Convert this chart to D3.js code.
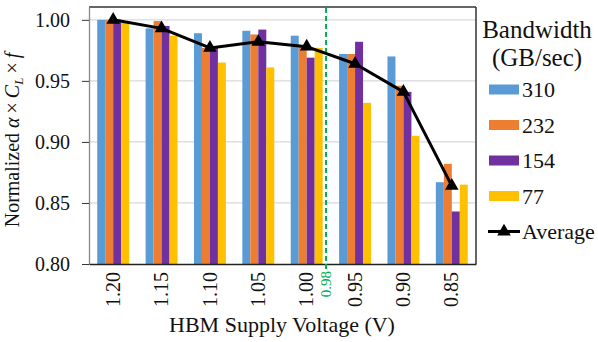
<!DOCTYPE html>
<html>
<head>
<meta charset="utf-8">
<script src="https://cdn.jsdelivr.net/npm/d3@7"></script>
</head>
<body style="margin:0; font-family: 'Liberation Serif', 'Times New Roman', serif;">
<script>
(function(){
    // data
    var voltages = ['1.20', '1.15', '1.10', '1.05', '1.00', '0.95', '0.90', '0.85'];
    var seriesKeys = ['310', '232', '154', '77'];
    var bw310 = [1.000, 0.993, 0.989, 0.991, 0.987, 0.972, 0.970, 0.867];
    var bw232 = [1.000, 0.999, 0.977, 0.988, 0.978, 0.972, 0.946, 0.882];
    var bw154 = [1.000, 0.995, 0.977, 0.992, 0.969, 0.982, 0.941, 0.843];
    var bw77  = [0.999, 0.987, 0.965, 0.961, 0.977, 0.932, 0.905, 0.865];
    var average = [1.000, 0.993, 0.977, 0.982, 0.978, 0.964, 0.941, 0.864];
    var yTicks = [0.80, 0.85, 0.90, 0.95, 1.00];
    var markerVoltage = 0.98;

    var seriesVals = { '310': bw310, '232': bw232, '154': bw154, '77': bw77 };
    var colors = { '310': '#5B9BD5', '232': '#ED7D31', '154': '#7030A0', '77': '#FFC000' };
    var FONT = "'Liberation Serif'";

    var W = 598, H = 342;
    var margin = { top: 7, right: 122, bottom: 78, left: 89 };
    var width = W - margin.left - margin.right;
    var height = H - margin.top - margin.bottom;

    var root = d3.select('body').append('svg')
        .attr('width', W).attr('height', H)
        .attr('font-family', 'Liberation Serif');
    var svg = root.append('g')
        .attr('transform', 'translate(' + margin.left + ',' + margin.top + ')');

    function serif(sel) {
        return sel.attr('font-family', 'Liberation Serif').style('font-family', FONT);
    }

    var x0 = d3.scaleBand().domain(voltages).range([0, width]).paddingInner(0.34).paddingOuter(0.17);
    var x1 = d3.scaleBand().domain(seriesKeys).range([0, x0.bandwidth()]);
    // linear voltage position (for the 0.98 V marker)
    var xv = d3.scaleLinear()
        .domain([+voltages[0], +voltages[voltages.length - 1]])
        .range([x0(voltages[0]) + x0.bandwidth() / 2, x0(voltages[voltages.length - 1]) + x0.bandwidth() / 2]);
    var y = d3.scaleLinear().domain([0.80, 1.0105]).range([height, 0]);

    // gridlines
    svg.append('g').selectAll('line')
        .data(yTicks.slice(1))
        .enter().append('line')
        .attr('x1', 0).attr('x2', width)
        .attr('y1', function(d){ return y(d); }).attr('y2', function(d){ return y(d); })
        .attr('stroke', '#d9d9d9').attr('stroke-width', 1.3);

    // bars
    voltages.forEach(function(v, i){
        var g = svg.append('g').attr('transform', 'translate(' + x0(v) + ',0)');
        seriesKeys.forEach(function(k){
            var val = seriesVals[k][i];
            g.append('rect')
                .attr('x', x1(k)).attr('width', x1.bandwidth())
                .attr('y', y(val)).attr('height', height - y(val))
                .attr('fill', colors[k]);
        });
    });

    // frame
    svg.append('line').attr('x1', 0).attr('x2', width).attr('y1', 0).attr('y2', 0)
        .attr('stroke', '#333').attr('stroke-width', 1.5);
    svg.append('line').attr('x1', width).attr('x2', width).attr('y1', 0).attr('y2', height)
        .attr('stroke', '#333').attr('stroke-width', 1.5);

    // y axis
    var yAxisG = svg.append('g')
        .call(d3.axisLeft(y).tickValues(yTicks).tickFormat(d3.format('.2f')).tickSize(7).tickPadding(12).tickSizeOuter(0));
    serif(yAxisG);
    yAxisG.select('.domain').attr('stroke', '#888').attr('stroke-width', 1.3);
    yAxisG.selectAll('.tick line').attr('stroke', '#333');
    serif(yAxisG.selectAll('text').attr('font-size', 20).attr('fill', '#111'));

    // x axis
    var xAxisG = svg.append('g')
        .attr('transform', 'translate(0,' + height + ')')
        .call(d3.axisBottom(x0).tickSize(0).tickPadding(0).tickSizeOuter(0));
    serif(xAxisG);
    xAxisG.select('.domain').attr('stroke', '#222').attr('stroke-width', 1.5);
    serif(xAxisG.selectAll('text')
        .attr('transform', 'rotate(-90)')
        .attr('text-anchor', 'end')
        .attr('x', -8).attr('y', 0).attr('dy', '0.33em')
        .attr('font-size', 20).attr('fill', '#111'));

    // 0.98 V dashed marker
    var mx = xv(markerVoltage);
    svg.append('line')
        .attr('x1', mx).attr('x2', mx).attr('y1', 1).attr('y2', height + 5)
        .attr('stroke', '#00B050').attr('stroke-width', 2).attr('stroke-dasharray', '5,3');
    serif(svg.append('text'))
        .attr('transform', 'translate(' + mx + ',' + (height + 7) + ') rotate(-90)')
        .attr('text-anchor', 'end').attr('dy', '0.33em')
        .attr('font-size', 15).attr('fill', '#00B050')
        .text(markerVoltage.toFixed(2));

    // average line
    var cx = function(i){ return x0(voltages[i]) + x0.bandwidth() / 2; };
    var line = d3.line()
        .x(function(d, i){ return cx(i); })
        .y(function(d){ return y(d); });
    svg.append('path').datum(average)
        .attr('fill', 'none').attr('stroke', '#000').attr('stroke-width', 3)
        .attr('stroke-linejoin', 'round')
        .attr('d', line);
    var tri = d3.symbol().type(d3.symbolTriangle).size(80);
    svg.append('g').selectAll('path')
        .data(average).enter().append('path')
        .attr('d', tri)
        .attr('transform', function(d, i){ return 'translate(' + cx(i) + ',' + y(d) + ')'; })
        .attr('fill', '#000');

    // axis titles
    serif(root.append('text'))
        .attr('x', 282).attr('y', 332)
        .attr('text-anchor', 'middle').attr('font-size', 22).attr('fill', '#111')
        .text('HBM Supply Voltage (V)');

    var yt = serif(root.append('text'))
        .attr('transform', 'translate(19,' + 140 + ') rotate(-90)')
        .attr('text-anchor', 'middle').attr('font-size', 20).attr('fill', '#111');
    yt.append('tspan').text('Normalized ');
    yt.append('tspan').attr('font-style', 'italic').text('α');
    yt.append('tspan').attr('dx', 4).text('×');
    yt.append('tspan').attr('dx', 4).attr('font-style', 'italic').text('C');
    yt.append('tspan').attr('font-style', 'italic').attr('font-size', 13).attr('dy', 4).text('L');
    yt.append('tspan').attr('dy', -4).attr('dx', 4).text('×');
    yt.append('tspan').attr('dx', 4).attr('font-style', 'italic').text('f');

    // legend
    var legend = root.append('g');
    serif(legend.append('text')).attr('x', 537).attr('y', 38).attr('text-anchor', 'middle')
        .attr('font-size', 25).attr('fill', '#111').text('Bandwidth');
    serif(legend.append('text')).attr('x', 537).attr('y', 66).attr('text-anchor', 'middle')
        .attr('font-size', 25).attr('fill', '#111').text('(GB/sec)');
    var rowY = [89.5, 125, 160.5, 196];
    seriesKeys.forEach(function(k, i){
        legend.append('rect')
            .attr('x', 489).attr('y', rowY[i] - 5).attr('width', 30).attr('height', 10)
            .attr('fill', colors[k]);
        serif(legend.append('text'))
            .attr('x', 522).attr('y', rowY[i]).attr('dy', '0.35em')
            .attr('font-size', 22).attr('fill', '#111').text(k);
    });
    var avgY = 231.5;
    legend.append('line').attr('x1', 488).attr('x2', 520).attr('y1', avgY).attr('y2', avgY)
        .attr('stroke', '#000').attr('stroke-width', 3);
    legend.append('path').attr('d', tri)
        .attr('transform', 'translate(504,' + avgY + ')').attr('fill', '#000');
    serif(legend.append('text'))
        .attr('x', 522).attr('y', avgY).attr('dy', '0.35em')
        .attr('font-size', 22).attr('fill', '#111').text('Average');
})();
</script>
</body>
</html>
